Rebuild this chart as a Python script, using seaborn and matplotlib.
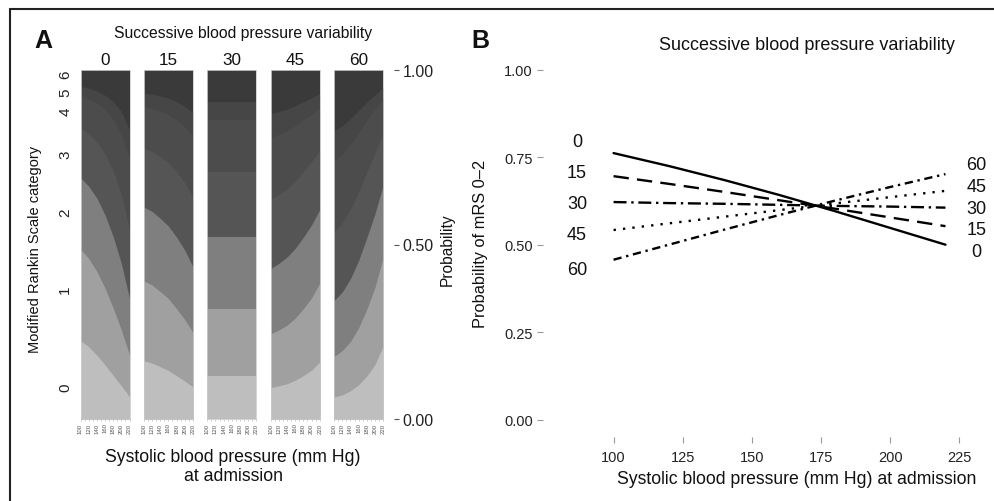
import matplotlib
matplotlib.use("Agg")
import matplotlib.pyplot as plt
from matplotlib.lines import Line2D
import seaborn as sns
import pandas as pd

# ---- data ----
sbp = [100, 120, 140, 160, 180, 200, 220]
sbpv_levels = [0, 15, 30, 45, 60]
mrs_categories = ["0", "1", "2", "3", "4", "5", "6"]
mrs_label_pos = [0.092, 0.372, 0.593, 0.759, 0.883, 0.939, 0.989]

# cumulative probability P(mRS <= k), k = 0..5, per SBP value
cum_sbpv0 = [
    [0.225, 0.207, 0.183, 0.155, 0.125, 0.095, 0.064],
    [0.487, 0.460, 0.423, 0.375, 0.318, 0.255, 0.184],
    [0.691, 0.667, 0.633, 0.585, 0.523, 0.446, 0.346],
    [0.834, 0.818, 0.794, 0.760, 0.711, 0.644, 0.543],
    [0.925, 0.917, 0.905, 0.886, 0.858, 0.816, 0.744],
    [0.953, 0.948, 0.940, 0.928, 0.910, 0.881, 0.829],
]
cum_sbpv15 = [
    [0.167, 0.160, 0.150, 0.139, 0.124, 0.109, 0.092],
    [0.396, 0.384, 0.365, 0.345, 0.316, 0.285, 0.248],
    [0.607, 0.595, 0.575, 0.553, 0.521, 0.484, 0.436],
    [0.776, 0.767, 0.752, 0.735, 0.709, 0.677, 0.634],
    [0.895, 0.890, 0.882, 0.872, 0.857, 0.837, 0.810],
    [0.934, 0.931, 0.926, 0.919, 0.909, 0.896, 0.877],
]
cum_sbpv30 = [
    [0.124, 0.124, 0.124, 0.124, 0.124, 0.124, 0.124],
    [0.316, 0.316, 0.316, 0.316, 0.316, 0.316, 0.316],
    [0.521, 0.521, 0.521, 0.521, 0.521, 0.521, 0.521],
    [0.709, 0.709, 0.709, 0.709, 0.709, 0.709, 0.709],
    [0.857, 0.857, 0.857, 0.857, 0.857, 0.857, 0.857],
    [0.909, 0.909, 0.909, 0.909, 0.909, 0.909, 0.909],
]
cum_sbpv45 = [
    [0.090, 0.095, 0.101, 0.111, 0.124, 0.140, 0.163],
    [0.244, 0.255, 0.269, 0.289, 0.316, 0.347, 0.389],
    [0.431, 0.446, 0.464, 0.489, 0.521, 0.556, 0.600],
    [0.630, 0.644, 0.659, 0.682, 0.709, 0.737, 0.770],
    [0.807, 0.816, 0.826, 0.840, 0.857, 0.873, 0.892],
    [0.874, 0.881, 0.888, 0.898, 0.909, 0.920, 0.932],
]
cum_sbpv60 = [
    [0.063, 0.069, 0.081, 0.098, 0.123, 0.156, 0.208],
    [0.179, 0.196, 0.222, 0.261, 0.314, 0.377, 0.462],
    [0.339, 0.364, 0.402, 0.454, 0.519, 0.588, 0.669],
    [0.535, 0.562, 0.601, 0.650, 0.707, 0.762, 0.819],
    [0.739, 0.759, 0.787, 0.820, 0.856, 0.887, 0.917],
    [0.825, 0.840, 0.861, 0.884, 0.908, 0.929, 0.949],
]
cum_panels = [cum_sbpv0, cum_sbpv15, cum_sbpv30, cum_sbpv45, cum_sbpv60]

# panel B: probability of mRS 0-2
prob_sbpv0 = [0.762, 0.725, 0.685, 0.642, 0.596, 0.548, 0.500]
prob_sbpv15 = [0.696, 0.674, 0.651, 0.627, 0.603, 0.578, 0.553]
prob_sbpv30 = [0.622, 0.619, 0.617, 0.614, 0.611, 0.609, 0.606]
prob_sbpv45 = [0.542, 0.561, 0.580, 0.599, 0.618, 0.636, 0.654]
prob_sbpv60 = [0.457, 0.500, 0.543, 0.585, 0.626, 0.665, 0.702]
line_probs = [prob_sbpv0, prob_sbpv15, prob_sbpv30, prob_sbpv45, prob_sbpv60]

# end-of-line labels (data coordinates)
left_label_y = [0.795, 0.707, 0.618, 0.528, 0.430]
right_label_y = [0.480, 0.543, 0.604, 0.667, 0.728]

band_colors = ["#bebebe", "#a0a0a0", "#7f7f7f", "#555555", "#4c4c4c", "#464646", "#3a3a3a"]
line_dashes = {"0": "", "15": (6.5, 3.5), "30": (5.5, 2, 1, 2),
               "45": (1, 3), "60": (3.5, 2, 1, 2)}

sns.set_theme(style="ticks")
plt.rcParams["font.family"] = ["Liberation Sans", "DejaVu Sans"]

W, H = 994, 502


def box(x0, y0, x1, y1):
    """pixel rectangle -> figure fraction [left, bottom, width, height]"""
    return [x0 / W, 1 - y1 / H, (x1 - x0) / W, (y1 - y0) / H]


def ftext(x, y, s, **kw):
    fig.text(x / W, 1 - y / H, s, ha=kw.pop("ha", "center"), va=kw.pop("va", "center"), **kw)


fig = plt.figure(figsize=(W / 100, H / 100), dpi=100)
fig.patch.set_facecolor("white")

# ---- panel A ----
panel_lefts = [80.5, 143.9, 207.3, 270.7, 334.1]
for i, (lvl, cum) in enumerate(zip(sbpv_levels, cum_panels)):
    ax = fig.add_axes(box(panel_lefts[i], 71, panel_lefts[i] + 49, 420))
    # stack from the top category down so the bands never leave seams
    ax.fill_between(sbp, 0, 1, color=band_colors[6], lw=0)
    for k in range(5, -1, -1):
        ax.fill_between(sbp, 0, cum[k], color=band_colors[k], lw=0)
    ax.set_xlim(100, 220)
    ax.set_ylim(0, 1)
    ax.set_title(str(lvl), fontsize=12.3, pad=4, color="#111111")
    ax.set_xticks(sbp)
    ax.set_xticklabels([str(v) for v in sbp], rotation=90, fontsize=4.3, color="#555555")
    ax.set_xticks(range(100, 221, 10), minor=True)
    ax.tick_params(axis="x", which="both", length=1.5, width=0.5, color="#bbbbbb", pad=1)
    if i == 0:
        ax.set_yticks(mrs_label_pos)
        ax.set_yticklabels(mrs_categories, rotation=90, va="center", fontsize=11, color="#222222")
        ax.tick_params(axis="y", length=0, pad=6)
    else:
        ax.set_yticks([])
    for sp in ax.spines.values():
        sp.set_color("#cccccc")
        sp.set_linewidth(0.6)

# probability axis on the right of panel A
axp = fig.add_axes(box(393, 71, 394, 420))
axp.set_ylim(0, 1)
axp.set_xticks([])
axp.yaxis.tick_right()
axp.set_yticks([0, 0.5, 1])
axp.set_yticklabels(["0.00", "0.50", "1.00"], fontsize=11.5, color="#222222")
axp.tick_params(axis="y", length=3.3, width=0.8, color="#555555", pad=3)
for sp in axp.spines.values():
    sp.set_visible(False)
axp.patch.set_alpha(0)

ftext(243.5, 34, "Successive blood pressure variability", fontsize=11.3, color="#111111")
ftext(43, 41, "A", fontsize=18, fontweight="bold", color="#111111")
ftext(35, 249, "Modified Rankin Scale category", rotation=90, fontsize=10.5, color="#111111")
ftext(447, 250, "Probability", rotation=90, fontsize=11.2, color="#111111")
ftext(233, 458, "Systolic blood pressure (mm Hg)", fontsize=12.7, color="#111111")
ftext(233, 477, "at admission", fontsize=12.7, color="#111111")

# ---- panel B ----
df_lines = pd.DataFrame({
    "sbp": [x for _ in sbpv_levels for x in sbp],
    "prob": [p for vals in line_probs for p in vals],
    "sbpv": [str(lvl) for lvl in sbpv_levels for _ in sbp],
})

axb = fig.add_axes(box(543.3, 53.4, 990, 438))
sns.lineplot(data=df_lines, x="sbp", y="prob", style="sbpv",
             style_order=[str(v) for v in sbpv_levels], dashes=line_dashes,
             color="black", linewidth=1.7, legend=False, ax=axb)
axb.set_xlim(74.6, 236.1)
axb.set_ylim(-0.05, 1.05)
axb.set_xticks([100, 125, 150, 175, 200, 225])
axb.set_yticks([0, 0.25, 0.5, 0.75, 1.0])
axb.set_yticklabels(["0.00", "0.25", "0.50", "0.75", "1.00"])
axb.tick_params(axis="both", length=4, width=0.8, color="#999999",
                labelsize=10.5, labelcolor="#222222", pad=3.5)
axb.tick_params(axis="x", pad=5.5)
axb.set_xlabel("")
axb.set_ylabel("")
for sp in axb.spines.values():
    sp.set_visible(False)
axb.patch.set_alpha(0)

for lvl, yl in zip(sbpv_levels, left_label_y):
    axb.text(86.8, yl, str(lvl), ha="center", va="center", fontsize=13, color="#111111", clip_on=False)
for lvl, yr in zip(sbpv_levels, right_label_y):
    axb.text(231.3, yr, str(lvl), ha="center", va="center", fontsize=13, color="#111111", clip_on=False)

ftext(480, 41, "B", fontsize=18, fontweight="bold", color="#111111")
ftext(806.7, 46, "Successive blood pressure variability", fontsize=13, color="#111111")
ftext(796.7, 480, "Systolic blood pressure (mm Hg) at admission", fontsize=12.7, color="#111111")
ftext(480, 243.5, "Probability of mRS 0\u20132", rotation=90, fontsize=11.8, color="#111111")

# frame: only the top and left edges are visible in the crop
fig.add_artist(Line2D([10 / W, 1], [1 - 9.5 / H, 1 - 9.5 / H], color="#222222", lw=1.5))
fig.add_artist(Line2D([10 / W, 10 / W], [1 - 9.5 / H, 0], color="#222222", lw=1.5))

fig.savefig("out.png", dpi=100)
